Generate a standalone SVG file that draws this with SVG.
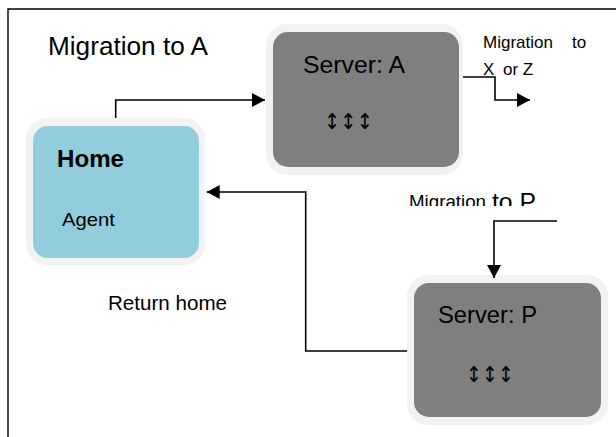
<svg xmlns="http://www.w3.org/2000/svg" width="616" height="437" viewBox="0 0 616 437">
<style>
.t{font-family:"Liberation Sans",Arial,sans-serif;fill:#000}
.halo{fill:#F2F2F2}
.srv{fill:#7F7F7F}
.home{fill:#92CDDC}
.conn{fill:none;stroke:#000;stroke-width:1.6}
.frame{fill:none;stroke:#000;stroke-width:1.4}
.arr{font-family:"DejaVu Sans",sans-serif;font-size:22px;fill:#000}
</style>
<defs>
<marker id="ah" markerUnits="userSpaceOnUse" markerWidth="14" markerHeight="15" refX="13" refY="7.5" orient="auto" viewBox="0 0 14 15">
<path d="M0,0.5 L13,7.5 L0,14.5 z" fill="#000"/>
</marker>
<clipPath id="clipP"><rect x="380" y="180" width="200" height="26"/></clipPath>
</defs>
<rect width="616" height="437" fill="#fff"/>
<path class="frame" d="M8,437 V9 H616"/>
<text class="t" x="48" y="55" font-size="25" textLength="160" lengthAdjust="spacingAndGlyphs">Migration to A</text>
<g id="home">
<rect class="halo" x="26" y="118" width="179" height="147" rx="21"/>
<rect class="home" x="33" y="126" width="166" height="132" rx="15"/>
<text class="t" x="57" y="167" font-size="24" font-weight="bold" textLength="67" lengthAdjust="spacingAndGlyphs">Home</text>
<text class="t" x="62" y="226" font-size="19" textLength="53" lengthAdjust="spacingAndGlyphs">Agent</text>
</g>
<g id="serverA">
<rect class="halo" x="266" y="24" width="197" height="151" rx="21"/>
<rect class="srv" x="273" y="32" width="186" height="135" rx="15"/>
<text class="t" x="303" y="73" font-size="24" textLength="102" lengthAdjust="spacingAndGlyphs">Server: A</text>
<text class="arr" x="324" y="129" textLength="49" lengthAdjust="spacingAndGlyphs">↕↕↕</text>
</g>
<g id="serverP">
<rect class="halo" x="407" y="275" width="201" height="150" rx="21"/>
<rect class="srv" x="414" y="283" width="187" height="134" rx="15"/>
<text class="t" x="438" y="323" font-size="24" textLength="99" lengthAdjust="spacingAndGlyphs">Server: P</text>
<text class="arr" x="466" y="382" textLength="48" lengthAdjust="spacingAndGlyphs">↕↕↕</text>
</g>
<g id="connectors">
<path class="conn" d="M115.7,118 V100 H265" marker-end="url(#ah)"/>
<path class="conn" d="M463,77 H495 V100 H530" marker-end="url(#ah)"/>
<path class="conn" d="M407,351 H305.7 V192 H206.7" marker-end="url(#ah)"/>
<path class="conn" d="M557,221 H494 V278" marker-end="url(#ah)"/>
</g>
<g id="labels">
<text class="t" y="48" font-size="17"><tspan x="483">Migration</tspan><tspan x="572">to</tspan></text>
<text class="t" y="75" font-size="17"><tspan x="483">X</tspan><tspan x="503">or Z</tspan></text>
<g clip-path="url(#clipP)">
<text class="t" x="409" y="208" font-size="18" textLength="77" lengthAdjust="spacingAndGlyphs">Migration</text>
<text class="t" x="492" y="210" font-size="24" textLength="44" lengthAdjust="spacingAndGlyphs">to P</text>
</g>
<text class="t" x="108" y="310" font-size="19.5" textLength="119" lengthAdjust="spacingAndGlyphs">Return home</text>
</g>
</svg>
